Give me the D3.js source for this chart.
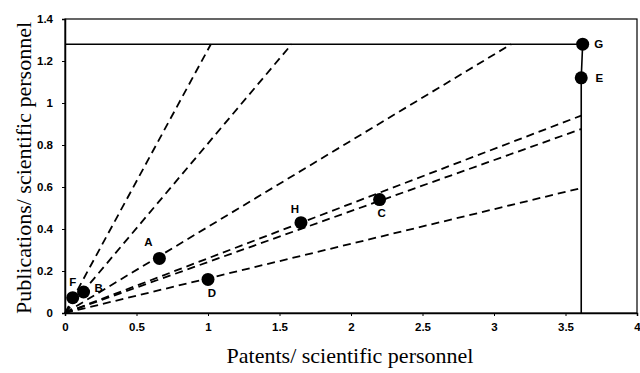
<!DOCTYPE html>
<html lang="en">
<head>
<meta charset="UTF-8">
<title>Publications vs patents</title>
<script src="https://cdn.jsdelivr.net/npm/d3@7"></script>
<style>
    body { margin: 0; background: #fff; }
    .tick text { font: bold 11.5px "Liberation Sans", Arial, sans-serif; fill: #000; }
    .title { font: 22px "Liberation Serif", "Times New Roman", serif; fill: #000; }
    .lbl { font: bold 11.5px "Liberation Sans", Arial, sans-serif; fill: #000; }
</style>
</head>
<body>
<script>
    // units (labels) and their values
    const units = ["A", "B", "C", "D", "E", "F", "G", "H"];
    const patents = [0.66, 0.13, 2.20, 1.00, 3.61, 0.054, 3.62, 1.65];
    const publications = [0.26, 0.10, 0.54, 0.16, 1.12, 0.073, 1.28, 0.43];

    // frontier (solid line)
    const frontierX = [0, 3.62, 3.61, 3.61];
    const frontierY = [1.28, 1.28, 1.12, 0];

    // dashed rays from origin, end points
    const rayEndX = [1.02, 1.585, 3.12, 3.61, 3.61, 3.61];
    const rayEndY = [1.28, 1.28, 1.28, 0.94, 0.876, 0.595];

    const xTicks = [0, 0.5, 1, 1.5, 2, 2.5, 3, 3.5, 4];
    const yTicks = [0, 0.2, 0.4, 0.6, 0.8, 1, 1.2, 1.4];

    // label offsets in px
    const labelOffset = {
        A: [-11, -16], B: [15, -4], C: [2, 13], D: [4, 14],
        E: [18, 0], F: [0, -16], G: [16, 0], H: [-6, -14]
    };

    const width = 640, height = 373;
    const margin = { top: 19, right: 2, bottom: 60, left: 65 };

    const svg = d3.select("body").append("svg")
        .attr("width", width).attr("height", height);

    const x = d3.scaleLinear().domain([0, 4]).range([margin.left, width - margin.right - 1]);
    const y = d3.scaleLinear().domain([0, 1.4]).range([height - margin.bottom, margin.top]);

    // box
    svg.append("rect")
        .attr("x", x(0)).attr("y", y(1.4))
        .attr("width", x(4) - x(0)).attr("height", y(0) - y(1.4))
        .attr("fill", "none").attr("stroke", "#000").attr("stroke-width", 1.2);

    const fmt = d => String(+d.toFixed(1));

    const xAxis = svg.append("g")
        .attr("transform", `translate(0,${y(0)})`)
        .call(d3.axisBottom(x).tickValues(xTicks).tickSize(3).tickPadding(7).tickFormat(fmt));
    const yAxis = svg.append("g")
        .attr("transform", `translate(${x(0)},0)`)
        .call(d3.axisLeft(y).tickValues(yTicks).tickSize(3).tickPadding(9).tickFormat(fmt));
    [xAxis, yAxis].forEach(g => {
        g.select(".domain").attr("stroke", "#000").attr("stroke-width", 1.5);
        g.selectAll(".tick line").attr("stroke", "#000");
    });

    // dashed rays
    svg.append("g").selectAll("line")
        .data(rayEndX.map((d, i) => [d, rayEndY[i]]))
        .join("line")
        .attr("x1", x(0)).attr("y1", y(0))
        .attr("x2", d => x(d[0])).attr("y2", d => y(d[1]))
        .attr("stroke", "#000").attr("stroke-width", 1.8)
        .attr("stroke-dasharray", "8,5");

    // frontier
    const line = d3.line().x(d => x(d[0])).y(d => y(d[1]));
    svg.append("path")
        .datum(frontierX.map((d, i) => [d, frontierY[i]]))
        .attr("d", line)
        .attr("fill", "none").attr("stroke", "#000").attr("stroke-width", 1.6);

    const pts = units.map((u, i) => ({ u, px: patents[i], py: publications[i] }));

    svg.append("g").selectAll("circle")
        .data(pts).join("circle")
        .attr("cx", d => x(d.px)).attr("cy", d => y(d.py))
        .attr("r", 6.5).attr("fill", "#000");

    svg.append("g").selectAll("text")
        .data(pts).join("text")
        .attr("class", "lbl")
        .attr("x", d => x(d.px) + labelOffset[d.u][0])
        .attr("y", d => y(d.py) + labelOffset[d.u][1])
        .attr("text-anchor", "middle").attr("dy", "0.35em")
        .text(d => d.u);

    // titles
    svg.append("text").attr("class", "title")
        .attr("x", 350).attr("y", 363).attr("text-anchor", "middle")
        .text("Patents/ scientific personnel");
    svg.append("text").attr("class", "title")
        .attr("transform", `translate(31,${y(0.7) + 2}) rotate(-90)`)
        .attr("text-anchor", "middle")
        .text("Publications/ scientific personnel");
</script>
</body>
</html>
